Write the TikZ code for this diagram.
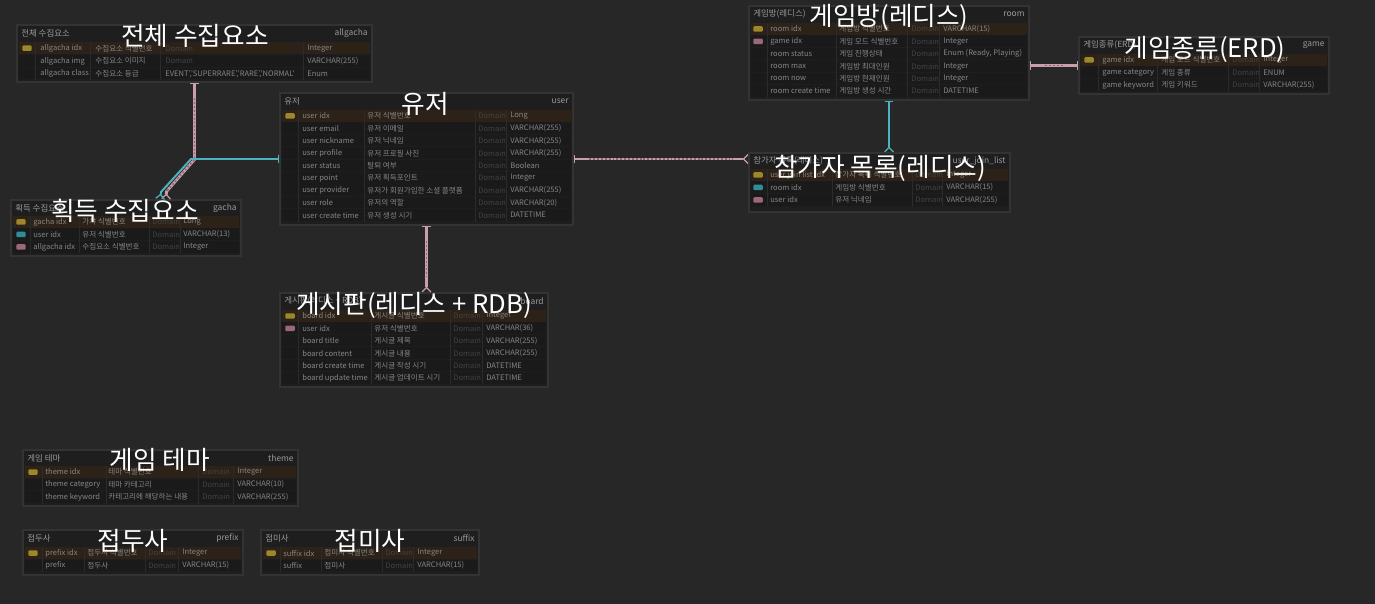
\documentclass[tikz,border=0pt]{standalone}
\usepackage{fontspec}
\setmainfont{Noto Sans CJK KR}
\usepackage{tikz}
\usetikzlibrary{arrows.meta,positioning,fit,calc}
\definecolor{canvas}{HTML}{272727}
\definecolor{tblbg}{HTML}{1E1E1E}
\definecolor{tblline}{HTML}{333333}
\definecolor{row}{HTML}{1A1A1A}
\definecolor{pkrow}{HTML}{2C2218}
\definecolor{colline}{HTML}{2B2B2B}
\definecolor{celltxt}{HTML}{868686}
\definecolor{domtxt}{HTML}{424242}
\definecolor{headtxt}{HTML}{9A9A9A}
\definecolor{keyY}{HTML}{9C872A}
\definecolor{keyT}{HTML}{2E8E98}
\definecolor{keyP}{HTML}{9A6878}
\definecolor{pinkline}{HTML}{C99FAB}
\definecolor{pinkdot}{HTML}{8E6570}
\definecolor{tealline}{HTML}{4DB3BF}

\begin{document}
\begin{tikzpicture}[
  x=0.02cm, y=-0.02cm,
  tbl/.style={draw=tblline, fill=tblbg, inner sep=0pt, line width=0.6pt},
  big/.style={text=white, inner sep=0pt, font=\fontsize{14.6}{16}\selectfont},
  head/.style={text=headtxt, inner sep=0pt, font=\fontsize{4.8}{6}\selectfont},
  cell/.style={anchor=west, inner sep=0pt, text=celltxt, font=\fontsize{4.3}{5}\selectfont},
  dom/.style={cell, text=domtxt},
  keyicon/.style={rectangle, rounded corners=0.6pt, minimum width=0.19cm,
                  minimum height=0.11cm, inner sep=0pt},
  colsep/.style={draw=colline, line width=0.5pt},
  pinkrel/.style={draw=pinkline, line width=1.6pt,
    arrows={Bar[width=5pt,line width=0.7pt]-Straight Barb[reversed,length=2.5pt,width=5pt,line width=0.7pt]},
    postaction={draw=pinkdot, -, line width=0.8pt, dash pattern=on 1.1pt off 1.1pt,
                shorten <=9pt, shorten >=9pt}},
  pinkbar/.style={pinkrel, arrows={Bar[width=5pt,line width=0.7pt]-Bar[width=5pt,line width=0.7pt]}},
  tealrel/.style={draw=tealline, line width=1.1pt,
    arrows={Bar[width=5pt,line width=0.7pt]-Straight Barb[reversed,length=2.5pt,width=5pt,line width=0.7pt]}},
]

\fill[canvas] (0,0) rectangle (1375,604);
\useasboundingbox (0,0) rectangle (1375,604);

% allgacha
\node[tbl, fit={(17,25) (372,82)}] (allgacha) {};
\node[head, anchor=west] (allgacha-h) at (21,33) {전체 수집요소};
\node[head, anchor=east] (allgacha-e) at (368,33) {allgacha};
\foreach \n/\c/\d/\t [count=\i from 0] in {allgacha idx/수집요소 식별번호/Domain/Integer,
    allgacha img/수집요소 이미지/Domain/VARCHAR(255),
    allgacha class/수집요소 등급/{\color{celltxt}EVENT','SUPERRARE','RARE','NORMAL'}/Enum}{
  \ifnum\i=0 \def\rowc{pkrow}\else\def\rowc{row}\fi
  \fill[fill=\rowc] (19,{42+12.8*\i}) rectangle (370,{53.8+12.8*\i});
  \node[cell] (allgacha-n\i) at (40,{48.2+12.8*\i}) {\n};
  \node[cell] (allgacha-c\i) at (95,{48.2+12.8*\i}) {\c};
  \node[dom] (allgacha-d\i) at (165,{48.2+12.8*\i}) {\d};
  \node[cell] (allgacha-t\i) at (307,{48.2+12.8*\i}) {\t};
}
\foreach \x in {35,90,160,303} \draw[colsep] (\x,42) -- (\x,80.4);
\node[keyicon, fill=keyY] (allgacha-k0) at (27,48.2) {};

% user
\node[tbl, fit={(280,93) (573,225)}] (user) {};
\node[head, anchor=west] (user-h) at (284,101) {유저};
\node[head, anchor=east] (user-e) at (569,101) {user};
\foreach \n/\c/\t [count=\i from 0] in {user idx/유저 식별번호/Long,
    user email/유저 이메일/VARCHAR(255),
    user nickname/유저 닉네임/VARCHAR(255),
    user profile/유저 프로필 사진/VARCHAR(255),
    user status/탈퇴 여부/Boolean,
    user point/유저 획득포인트/Integer,
    user provider/유저가 회원가입한 소셜 플랫폼/VARCHAR(255),
    user role/유저의 역할/VARCHAR(20),
    user create time/유저 생성 시기/DATETIME}{
  \ifnum\i=0 \def\rowc{pkrow}\else\def\rowc{row}\fi
  \fill[fill=\rowc] (282,{110+12.4*\i}) rectangle (571,{121.6+12.4*\i});
  \node[cell] (user-n\i) at (302,{116+12.4*\i}) {\n};
  \node[cell] (user-c\i) at (367,{116+12.4*\i}) {\c};
  \node[dom] (user-d\i) at (478,{116+12.4*\i}) {Domain};
  \node[cell] (user-t\i) at (510,{116+12.4*\i}) {\t};
}
\foreach \x in {298,364,475,506} \draw[colsep] (\x,110) -- (\x,221.6);
\node[keyicon, fill=keyY] (user-k0) at (290,116) {};

% gacha
\node[tbl, fit={(11,200) (241,256)}] (gacha) {};
\node[head, anchor=west] (gacha-h) at (15,208) {획득 수집요소};
\node[head, anchor=east] (gacha-e) at (237,208) {gacha};
\foreach \n/\c/\t [count=\i from 0] in {gacha idx/가챠 식별번호/Long,
    user idx/유저 식별번호/VARCHAR(13),
    allgacha idx/수집요소 식별번호/Integer}{
  \ifnum\i=0 \def\rowc{pkrow}\else\def\rowc{row}\fi
  \fill[fill=\rowc] (13,{216+12.5*\i}) rectangle (239,{227.7+12.5*\i});
  \node[cell] (gacha-n\i) at (33,{222+12.5*\i}) {\n};
  \node[cell] (gacha-c\i) at (82,{222+12.5*\i}) {\c};
  \node[dom] (gacha-d\i) at (152,{222+12.5*\i}) {Domain};
  \node[cell] (gacha-t\i) at (183,{222+12.5*\i}) {\t};
}
\foreach \x in {30,79,149,180} \draw[colsep] (\x,216) -- (\x,253.5);
\node[keyicon, fill=keyY] (gacha-k0) at (21,222) {};
\node[keyicon, fill=keyT] (gacha-k1) at (21,234.5) {};
\node[keyicon, fill=keyP] (gacha-k2) at (21,247) {};

% board
\node[tbl, fit={(280,293) (548,387)}] (board) {};
\node[head, anchor=west] (board-h) at (284,301) {게시판(레디스 + RDB)};
\node[head, anchor=east] (board-e) at (544,301) {board};
\foreach \n/\c/\t [count=\i from 0] in {board idx/게시글 식별번호/Integer,
    user idx/유저 식별번호/VARCHAR(36),
    board title/게시글 제목/VARCHAR(255),
    board content/게시글 내용/VARCHAR(255),
    board create time/게시글 작성 시기/DATETIME,
    board update time/게시글 업데이트 시기/DATETIME}{
  \ifnum\i=0 \def\rowc{pkrow}\else\def\rowc{row}\fi
  \fill[fill=\rowc] (282,{310+12.4*\i}) rectangle (546,{321.6+12.4*\i});
  \node[cell] (board-n\i) at (302,{316+12.4*\i}) {\n};
  \node[cell] (board-c\i) at (374,{316+12.4*\i}) {\c};
  \node[dom] (board-d\i) at (453,{316+12.4*\i}) {Domain};
  \node[cell] (board-t\i) at (486,{316+12.4*\i}) {\t};
}
\foreach \x in {298,371,450,482} \draw[colsep] (\x,310) -- (\x,384.4);
\node[keyicon, fill=keyY] (board-k0) at (290,316) {};
\node[keyicon, fill=keyP] (board-k1) at (290,328.4) {};

% room
\node[tbl, fit={(749,6) (1029,100)}] (room) {};
\node[head, anchor=west] (room-h) at (753,14) {게임방(레디스)};
\node[head, anchor=east] (room-e) at (1025,14) {room};
\foreach \n/\c/\t [count=\i from 0] in {room idx/게임방 식별번호/VARCHAR(15),
    game idx/게임 모드 식별번호/Integer,
    room status/게임 진행상태/{Enum (Ready, Playing)},
    room max/게임방 최대인원/Integer,
    room now/게임방 현재인원/Integer,
    room create time/게임방 생성 시간/DATETIME}{
  \ifnum\i=0 \def\rowc{pkrow}\else\def\rowc{row}\fi
  \fill[fill=\rowc] (751,{23+12.4*\i}) rectangle (1027,{34.6+12.4*\i});
  \node[cell] (room-n\i) at (770,{29+12.4*\i}) {\n};
  \node[cell] (room-c\i) at (839,{29+12.4*\i}) {\c};
  \node[dom] (room-d\i) at (911,{29+12.4*\i}) {Domain};
  \node[cell] (room-t\i) at (943,{29+12.4*\i}) {\t};
}
\foreach \x in {767,836,907,939} \draw[colsep] (\x,23) -- (\x,97.4);
\node[keyicon, fill=keyY] (room-k0) at (758,29) {};
\node[keyicon, fill=keyP] (room-k1) at (758,41.4) {};

% game
\node[tbl, fit={(1079,37) (1329,94)}] (game) {};
\node[head, anchor=west] (game-h) at (1083,45) {게임종류(ERD)};
\node[head, anchor=east] (game-e) at (1325,45) {game};
\foreach \n/\c/\t [count=\i from 0] in {game idx/게임 모드 식별번호/Integer,
    game category/게임 종류/ENUM,
    game keyword/게임 키워드/VARCHAR(255)}{
  \ifnum\i=0 \def\rowc{pkrow}\else\def\rowc{row}\fi
  \fill[fill=\rowc] (1081,{54+12.5*\i}) rectangle (1327,{65.7+12.5*\i});
  \node[cell] (game-n\i) at (1102,{60+12.5*\i}) {\n};
  \node[cell] (game-c\i) at (1161,{60+12.5*\i}) {\c};
  \node[dom] (game-d\i) at (1232,{60+12.5*\i}) {Domain};
  \node[cell] (game-t\i) at (1263,{60+12.5*\i}) {\t};
}
\foreach \x in {1098,1157,1228,1259} \draw[colsep] (\x,54) -- (\x,91.5);
\node[keyicon, fill=keyY] (game-k0) at (1089,60) {};

% user_join_list
\node[tbl, fit={(749,153) (1010,212)}] (rlist) {};
\node[head, anchor=west] (rlist-h) at (753,161) {참가자 목록(레디스)};
\node[head, anchor=east] (rlist-e) at (1006,161) {user\_join\_list};
\foreach \n/\c/\t [count=\i from 0] in {user join list idx/참가자 목록 식별번호/Integer,
    room idx/게임방 식별번호/VARCHAR(15),
    user idx/유저 닉네임/VARCHAR(255)}{
  \ifnum\i=0 \def\rowc{pkrow}\else\def\rowc{row}\fi
  \fill[fill=\rowc] (751,{169+12.5*\i}) rectangle (1008,{180.7+12.5*\i});
  \node[cell] (rlist-n\i) at (770,{175+12.5*\i}) {\n};
  \node[cell] (rlist-c\i) at (835,{175+12.5*\i}) {\c};
  \node[dom] (rlist-d\i) at (915,{175+12.5*\i}) {Domain};
  \node[cell] (rlist-t\i) at (946,{175+12.5*\i}) {\t};
}
\foreach \x in {767,832,912,942} \draw[colsep] (\x,169) -- (\x,206.5);
\node[keyicon, fill=keyY] (rlist-k0) at (758,175) {};
\node[keyicon, fill=keyT] (rlist-k1) at (758,187.5) {};
\node[keyicon, fill=keyP] (rlist-k2) at (758,200) {};

% theme
\node[tbl, fit={(23,450) (298,506)}] (theme) {};
\node[head, anchor=west] (theme-h) at (27,458) {게임 테마};
\node[head, anchor=east] (theme-e) at (294,458) {theme};
\foreach \n/\c/\t [count=\i from 0] in {theme idx/테마 식별번호/Integer,
    theme category/테마 카테고리/VARCHAR(10),
    theme keyword/카테고리에 해당하는 내용/VARCHAR(255)}{
  \ifnum\i=0 \def\rowc{pkrow}\else\def\rowc{row}\fi
  \fill[fill=\rowc] (25,{466+12.5*\i}) rectangle (296,{477.7+12.5*\i});
  \node[cell] (theme-n\i) at (45,{472+12.5*\i}) {\n};
  \node[cell] (theme-c\i) at (108,{472+12.5*\i}) {\c};
  \node[dom] (theme-d\i) at (202,{472+12.5*\i}) {Domain};
  \node[cell] (theme-t\i) at (237,{472+12.5*\i}) {\t};
}
\foreach \x in {42,106,198,233} \draw[colsep] (\x,466) -- (\x,503.5);
\node[keyicon, fill=keyY] (theme-k0) at (33,472) {};

% prefix
\node[tbl, fit={(23,530) (243,575)}] (prefix) {};
\node[head, anchor=west] (prefix-h) at (27,538) {접두사};
\node[head, anchor=east] (prefix-e) at (239,538) {prefix};
\foreach \n/\c/\t [count=\i from 0] in {prefix idx/접두사 식별번호/Integer,
    prefix/접두사/VARCHAR(15)}{
  \ifnum\i=0 \def\rowc{pkrow}\else\def\rowc{row}\fi
  \fill[fill=\rowc] (25,{547+12.5*\i}) rectangle (241,{558.7+12.5*\i});
  \node[cell] (prefix-n\i) at (45,{553+12.5*\i}) {\n};
  \node[cell] (prefix-c\i) at (87,{553+12.5*\i}) {\c};
  \node[dom] (prefix-d\i) at (148,{553+12.5*\i}) {Domain};
  \node[cell] (prefix-t\i) at (182,{553+12.5*\i}) {\t};
}
\foreach \x in {42,84,145,178} \draw[colsep] (\x,547) -- (\x,572);
\node[keyicon, fill=keyY] (prefix-k0) at (33,553) {};

% suffix
\node[tbl, fit={(261,530) (479,575)}] (suffix) {};
\node[head, anchor=west] (suffix-h) at (265,538) {접미사};
\node[head, anchor=east] (suffix-e) at (475,538) {suffix};
\foreach \n/\c/\t [count=\i from 0] in {suffix idx/접미사 식별번호/Integer,
    suffix/접미사/VARCHAR(15)}{
  \ifnum\i=0 \def\rowc{pkrow}\else\def\rowc{row}\fi
  \fill[fill=\rowc] (263,{547+12.5*\i}) rectangle (477,{558.7+12.5*\i});
  \node[cell] (suffix-n\i) at (283,{553+12.5*\i}) {\n};
  \node[cell] (suffix-c\i) at (324,{553+12.5*\i}) {\c};
  \node[dom] (suffix-d\i) at (385,{553+12.5*\i}) {Domain};
  \node[cell] (suffix-t\i) at (417,{553+12.5*\i}) {\t};
}
\foreach \x in {280,321,382,413} \draw[colsep] (\x,547) -- (\x,572);
\node[keyicon, fill=keyY] (suffix-k0) at (271,553) {};

% relations
\draw[pinkrel] (allgacha.south) -- ++(0,77) -- ++(-28,32) -- ($(gacha.north)+(40,0)$);
\draw[tealrel] (user.west) -- (191,159) -- (161,192) -- ($(gacha.north)+(34,0)$);
\draw[pinkrel] (user.south) -- (user.south |- board.north);
\draw[pinkrel] (user.east) -- (user.east -| rlist.west);
\draw[tealrel] (room.south) -- (room.south |- rlist.north);
\draw[pinkbar] (room.east |- game.west) -- (game.west);

% big titles
\node[big] (t-allgacha) at (195,36) {전체 수집요소};
\node[big] (t-user) at (425,104) {유저};
\node[big] (t-gacha) at (125,211) {획득 수집요소};
\node[big] (t-board) at (414,305) {게시판(레디스 + RDB)};
\node[big] (t-room) at (889,17) {게임방(레디스)};
\node[big] (t-game) at (1205,49) {게임종류(ERD)};
\node[big] (t-rlist) at (880,168) {참가자 목록(레디스)};
\node[big] (t-theme) at (160,460) {게임 테마};
\node[big] (t-prefix) at (133,541) {접두사};
\node[big] (t-suffix) at (370,541) {접미사};

\end{tikzpicture}
\end{document}
